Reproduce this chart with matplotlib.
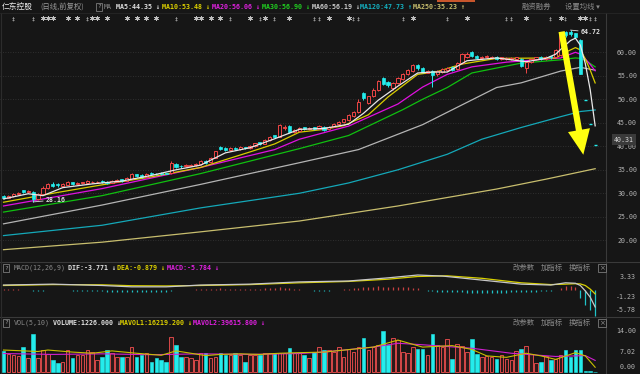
import matplotlib
matplotlib.use('Agg')
import matplotlib.pyplot as plt
import numpy as np
from matplotlib.transforms import blended_transform_factory
from matplotlib.lines import Line2D
from matplotlib.patches import Rectangle

# ---------------- data ----------------
opens = [29.4,29.0,29.4,29.8,30.6,30.2,30.3,28.8,29.9,31.2,
         32.0,31.9,31.6,31.8,32.3,31.9,32.1,32.2,32.4,32.3,
         32.6,32.5,32.2,32.5,33.0,32.7,33.1,34.0,33.8,33.5,
         34.3,34.2,34.3,34.3,34.3,36.3,35.9,35.7,35.9,36.0,
         36.2,36.9,36.6,37.6,39.9,39.6,39.2,39.7,39.4,39.8,
         39.6,40.0,40.9,40.5,41.3,42.3,42.0,43.8,44.4,43.0,
         43.3,44.0,43.6,44.0,43.7,44.2,43.6,44.1,44.7,45.1,
         45.5,46.4,47.2,51.3,49.3,50.6,51.9,54.6,53.6,52.4,
         53.4,54.4,55.3,56.0,57.3,56.6,55.7,56.0,55.3,55.9,
         56.3,56.8,56.4,57.8,59.0,60.0,59.2,58.8,58.9,58.7,
         59.0,58.5,58.6,58.5,58.6,58.6,56.7,57.9,58.5,59.0,
         58.6,59.2,58.9,59.5,64.3,64.4,64.0,62.6,49.8,44.82,40.31]
closes = [29.0,29.4,29.8,30.1,30.3,30.4,28.8,29.8,31.2,31.9,
          31.6,31.7,31.9,32.3,31.9,32.2,32.3,32.6,32.5,32.5,
          32.3,32.2,32.6,32.8,32.7,33.2,34.0,33.6,33.5,34.2,
          34.0,34.0,34.1,34.2,36.5,35.6,35.7,36.0,36.1,36.3,
          36.8,36.5,37.6,38.9,39.5,39.2,39.6,39.4,39.8,39.6,
          40.1,40.6,40.5,41.3,42.0,42.0,44.5,44.2,43.0,43.4,
          43.8,43.6,43.9,43.7,44.3,43.5,44.2,44.8,45.2,45.7,
          46.6,47.3,49.5,50.2,50.6,52.0,53.8,53.3,53.0,53.4,
          54.5,55.4,56.2,57.2,56.6,55.9,56.1,55.2,56.0,56.4,
          56.6,56.3,57.8,59.6,59.7,59.2,58.8,59.1,59.2,59.0,
          58.6,58.9,58.8,58.8,58.9,57.1,57.9,58.6,58.9,58.6,
          59.0,58.9,60.4,64.0,63.6,63.9,63.3,55.33,49.8,44.82,40.31]
highs = [29.6,29.6,30.0,30.3,30.8,30.6,30.4,30.0,31.5,32.2,
         32.3,32.1,32.1,32.6,32.4,32.4,32.5,32.8,32.7,32.7,
         32.8,32.7,32.8,33.0,33.1,33.4,34.3,34.1,34.0,34.4,
         34.5,34.3,34.5,34.4,36.8,36.5,36.1,36.2,36.3,36.5,
         37.0,37.1,37.8,39.1,40.1,39.8,39.8,39.9,40.0,39.9,
         40.3,40.8,41.0,41.5,42.2,42.5,44.7,44.5,44.6,43.6,
         44.0,44.2,44.1,44.2,44.5,44.3,44.4,45.0,45.4,45.9,
         46.8,47.6,50.0,51.6,50.8,52.5,54.2,54.8,53.9,53.6,
         54.8,55.6,56.5,57.6,57.5,56.8,56.3,56.2,56.2,56.6,
         56.9,57.0,58.0,59.8,60.0,60.3,59.4,59.3,59.4,59.2,
         59.2,59.1,59.0,59.0,59.1,58.8,58.1,58.8,59.1,59.2,
         59.2,59.3,60.6,64.2,64.5,64.72,64.2,62.9,49.8,44.82,40.31]
lows = [28.8,28.9,29.2,29.6,30.0,30.0,28.16,28.6,29.8,31.0,
        31.4,31.4,31.5,31.7,31.7,31.8,31.9,32.0,32.2,32.2,
        32.1,32.0,32.1,32.4,32.5,32.6,33.0,33.4,33.2,33.4,
        33.8,33.8,33.9,34.0,34.2,35.4,35.4,35.6,35.8,35.9,
        36.1,36.3,36.5,37.5,39.2,38.9,39.0,39.2,39.3,39.4,
        39.5,39.9,40.3,40.4,41.1,41.8,41.9,43.4,42.8,42.8,
        43.2,43.4,43.4,43.5,43.6,43.2,43.5,44.0,44.5,45.0,
        45.4,46.2,47.0,49.9,49.0,50.4,51.7,53.0,52.6,51.9,
        53.2,54.2,55.1,55.9,56.3,55.6,55.5,52.6,55.0,55.7,
        56.1,56.1,56.3,57.6,58.8,59.0,58.6,58.6,58.7,58.5,
        58.4,58.4,58.4,58.3,58.4,56.9,55.6,57.7,58.3,58.4,
        58.4,58.6,58.8,59.3,63.2,63.5,63.0,55.33,49.8,44.82,40.31]
volumes = [7.3,6.3,5.8,5.5,8.7,4.7,13.0,4.7,7.5,6.0,
           4.1,3.0,3.5,7.5,4.7,5.8,5.8,7.5,6.9,4.1,
           5.2,7.5,6.4,5.2,5.2,5.2,8.6,5.2,5.8,6.4,
           3.5,4.7,4.1,3.5,11.8,9.2,5.2,5.2,4.7,4.1,
           6.4,6.4,4.7,5.2,6.4,5.8,5.8,6.4,5.8,3.5,
           5.8,5.8,5.8,6.4,6.4,6.4,6.4,6.4,8.1,6.4,
           6.4,5.8,4.7,6.9,8.6,7.5,7.5,6.9,8.4,5.2,
           7.7,6.9,8.4,11.5,7.5,8.4,9.2,14.1,9.2,11.5,
           10.9,6.9,6.5,8.4,7.9,7.9,5.8,12.9,9.2,8.4,
           11.2,4.3,9.6,8.8,6.9,11.2,6.1,5.2,5.4,5.2,
           4.3,5.8,4.3,4.1,7.3,7.7,9.0,6.1,3.0,3.5,
           5.4,4.1,4.6,5.8,7.5,5.2,7.5,7.5,0.4,0.3,0.12]
macd_bar = [0.15,0.2,0.25,0.2,0.1, -0.1,-0.2,-0.25,-0.15,-0.05,
            0.1,0.05,-0.05,-0.1,-0.15, -0.2,-0.2,-0.25,-0.25,-0.3,
            -0.3,-0.35,-0.35,-0.4,-0.4, -0.45,-0.4,-0.45,-0.5,-0.5,
            -0.55,-0.5,-0.45,-0.4,-0.2, -0.1,-0.05,0.05,0.1,0.15,
            0.2,0.2,0.25,0.3,0.35, 0.3,0.3,0.25,0.25,0.2,
            0.2,0.25,0.3,0.35,0.4, 0.45,0.6,0.55,0.4,0.3,
            0.2,0.1,-0.05,-0.15,-0.2, -0.25,-0.2,-0.1,0.05,0.15,
            0.25,0.35,0.5,0.6,0.6, 0.7,0.8,0.75,0.7,0.65,
            0.7,0.65,0.6,0.5,0.4, -0.1,-0.2,-0.3,-0.35,-0.4,
            -0.45,-0.5,-0.5,-0.55,-0.6, -0.65,-0.7,-0.75,-0.75,-0.7,
            -0.7,-0.65,-0.6,-0.55,-0.5, -0.55,-0.5,-0.45,-0.4,-0.3,
            -0.2,-0.15,-0.05, 0.5,0.8,0.9,0.6, -1.8,-3.3,-4.4,-5.78]

# moving-average lines (candle index, value)
ma5_i = [0,5,8,12,18,24,30,35,40,45,50,55,60,65,70,73,76,80,84,87,90,94,100,106,110,112,113,115,116,117,118,119,120]
ma5_v = [28.8,29.9,29.5,31.2,32.0,32.6,33.8,35.0,36.0,38.6,39.7,41.6,43.6,43.8,44.7,47.0,49.8,52.8,55.6,55.8,55.8,58.2,58.8,58.0,58.7,59.6,60.6,62.5,63.0,61.5,57.6,52.0,44.35]
ma10_i = [0,10,20,30,40,50,55,60,65,69,74,78,84,88,93,100,112,114,116,117,118,119,120]
ma10_v = [28.1,30.0,31.8,33.5,35.5,38.8,40.5,43.0,43.6,44.4,46.7,50.5,55.3,55.9,57.5,58.7,58.8,60.0,61.0,60.5,58.6,56.2,53.48]
ma20_i = [0,20,40,55,60,70,80,85,90,95,102,113,116,117,118,119,120]
ma20_v = [27.3,31.0,35.5,39.3,41.5,44.3,49.0,52.6,55.3,56.9,57.9,58.8,60.0,59.6,58.6,57.4,56.06]
ma30_i = [0,20,40,60,70,81,85,90,95,105,113,116,117,118,119,120]
ma30_v = [26.0,29.5,34.2,39.5,42.3,47.8,50.0,52.5,55.6,57.7,58.4,58.8,58.7,58.3,57.6,56.90]
ma60_i = [0,20,40,60,72,85,100,105,113,117,120]
ma60_v = [23.5,27.5,31.9,36.5,39.3,44.6,52.5,53.5,56.0,56.8,56.19]
ma120_i = [0,20,40,60,70,80,90,97,105,113,117,120]
ma120_v = [21.0,23.2,26.9,30.0,32.2,35.0,38.3,41.5,44.0,46.3,47.4,47.73]
ma250_i = [0,20,40,60,80,100,110,120]
ma250_v = [18.0,19.6,21.8,24.1,27.3,30.9,33.0,35.23]

# MACD lines
dif_i = [0,10,20,26,33,40,50,60,70,78,84,89,97,105,111,114,116,117,118,119,120]
dif_v = [1.1,1.3,1.0,0.7,0.7,1.1,1.3,1.8,2.0,2.7,3.33,3.1,2.2,1.3,1.1,1.6,1.5,1.0,-0.2,-1.6,-3.771]
dea_i = [0,10,20,26,33,40,50,60,70,78,84,90,97,105,111,114,116,117,118,119,120]
dea_v = [1.0,1.2,1.15,0.95,0.9,1.0,1.2,1.6,1.9,2.4,3.0,3.15,2.6,1.6,1.2,1.3,1.4,1.35,1.0,0.2,-0.879]

# volume average lines
mavol1_i = [0,7,9,14,18,22,27,32,35,38,41,44,48,52,56,60,65,71,75,80,85,91,95,98,102,106,109,112,116,118,120]
mavol1_v = [7.5,7.0,7.5,6.8,6.4,7.2,6.4,5.7,7.2,6.4,5.6,6.0,6.2,6.0,6.4,6.6,6.8,7.8,8.5,10.9,8.5,9.0,7.7,5.5,5.0,6.4,5.5,4.3,6.6,5.5,1.62]
mavol2_i = [0,10,20,30,40,50,60,65,75,80,85,95,103,112,118,120]
mavol2_v = [6.3,6.0,6.2,5.9,6.2,6.0,6.3,6.8,8.5,9.8,9.3,8.1,6.4,5.3,5.6,3.96]

price_ticks = [20, 25, 30, 35, 40, 45, 50, 55, 60]
last_price = 40.31
high_mark = (115, 64.72)
low_mark = (6, 28.16)

# info marks row: candle indices (wide star / narrow double dagger)
info_wide = [8,9,10,13,15,18,19,21,25,27,29,31,39,40,42,44,50,53,58,66,70,83,94,106,113,117,118]
info_narrow = [2,6,17,35,46,52,55,63,64,71,72,81,90,102,103,111,114,119,120]

# ---------------- style ----------------
W, H = 640, 374
BG = '#161616'
RED = '#ee4646'
CYAN = '#24ecec'
CJK = ['Noto Sans CJK SC', 'DejaVu Sans']
MONO = ['DejaVu Sans Mono', 'DejaVu Sans']

fig = plt.figure(figsize=(6.4, 3.74), dpi=100, facecolor=BG)

def fx(x):
    return x / W

def fy(y):
    return 1 - y / H

XL = (-0.71, 122.2)
ax = fig.add_axes([0, fy(262), fx(606), (262 - 13) / H])
axm = fig.add_axes([0, fy(317), fx(606), (317 - 262) / H])
axv = fig.add_axes([0, fy(373), fx(606), (373 - 317) / H])
for a in (ax, axm, axv):
    a.set_facecolor(BG)
    for s in a.spines.values():
        s.set_visible(False)
    a.set_xlim(*XL)
    a.set_xticks([])
    a.tick_params(left=False, right=False, labelleft=False, bottom=False, labelbottom=False)

o = np.array(opens); c = np.array(closes); h = np.array(highs); l = np.array(lows)
idx = np.arange(len(c))
prev = np.r_[o[0], c[:-1]]
up = (c > o) | ((c == o) & (c >= prev))
dn = ~up
flat = np.isclose(c, o)

# ---- main panel ----
ax.set_ylim(15.38, 68.36)
ax.hlines(price_ticks, XL[0], XL[1], colors='#383838', linestyles=(0, (1, 2)), lw=0.6, zorder=0)

top = np.maximum(o, c); bot = np.minimum(o, c)
ax.vlines(idx[up], top[up], h[up], colors=RED, lw=0.7, zorder=3)
ax.vlines(idx[up], l[up], bot[up], colors=RED, lw=0.7, zorder=3)
ax.vlines(idx[dn], l[dn], h[dn], colors=CYAN, lw=0.7, zorder=3)
bw = 0.64
m = up & ~flat
ax.bar(idx[m], (top - bot)[m], bottom=bot[m], width=bw, facecolor=BG, edgecolor=RED, lw=0.7, zorder=4)
m = dn & ~flat
ax.bar(idx[m], (top - bot)[m], bottom=bot[m], width=bw, facecolor=CYAN, edgecolor=CYAN, lw=0.5, zorder=4)
ax.hlines(c[flat], idx[flat] - bw / 2, idx[flat] + bw / 2, colors=CYAN, lw=1.0, zorder=4)

ax.plot(ma250_i, ma250_v, color='#c8be6e', lw=0.9, zorder=2)
ax.plot(ma120_i, ma120_v, color='#14a8b8', lw=0.9, zorder=2)
ax.plot(ma60_i, ma60_v, color='#b4b4b4', lw=0.9, zorder=2)
ax.plot(ma30_i, ma30_v, color='#10c010', lw=0.9, zorder=2)
ax.plot(ma20_i, ma20_v, color='#e010e0', lw=0.9, zorder=2)
ax.plot(ma10_i, ma10_v, color='#d8cc00', lw=0.9, zorder=2)
ax.plot(ma5_i, ma5_v, color='#e8e8e8', lw=0.9, zorder=5)

ax.yaxis.tick_right()
ax.set_yticks(price_ticks)
ax.set_yticklabels([f'{v:.2f}' for v in price_ticks])
ax.tick_params(axis='y', right=False, labelright=True, length=0, pad=8, labelsize=4.8, labelcolor='#b4b4b4')
for lb in ax.get_yticklabels():
    lb.set_family(MONO)

ax.annotate(f'{last_price:.2f}', xy=(1, last_price), xycoords=('axes fraction', 'data'),
            xytext=(18, 5), textcoords='offset pixels', ha='center', va='center',
            fontsize=4.8, family=MONO, color='#d8d8d8', annotation_clip=False, zorder=20,
            bbox=dict(boxstyle='square,pad=0.35', fc='#3a3a3a', ec='none'))

ax.annotate(f'{high_mark[1]:.2f}', xy=high_mark, xytext=(117.1, 64.3), ha='left', va='center',
            fontsize=4.8, family=MONO, color='#e0e0e0', fontweight='bold',
            arrowprops=dict(arrowstyle='-', color='#e0e0e0', lw=0.6, shrinkA=0, shrinkB=0), zorder=12)
ax.annotate(f'{low_mark[1]:.2f}', xy=low_mark, xytext=(8.6, 28.6), ha='left', va='center',
            fontsize=4.8, family=MONO, color='#e0e0e0', fontweight='bold',
            arrowprops=dict(arrowstyle='-', color='#e0e0e0', lw=0.6, shrinkA=0, shrinkB=0), zorder=12)

ax.annotate('', xy=(117.6, 38.2), xytext=(113.2, 64.4),
            arrowprops=dict(arrowstyle='simple,head_length=1.8,head_width=1.6,tail_width=0.45',
                            fc='#ffff10', ec='none', mutation_scale=10, shrinkA=0, shrinkB=0), zorder=15)

tr = blended_transform_factory(ax.transData, ax.transAxes)
ax.scatter(info_wide, [0.978] * len(info_wide), marker=(6, 2, 0), s=10, lw=0.5, color='#c0c0c0', transform=tr, zorder=6)
for i in info_narrow:
    ax.text(i, 0.975, '\u2021', transform=tr, ha='center', va='center', fontsize=4.2, color='#c0c0c0', family='DejaVu Sans')

# ---- MACD panel ----
axm.set_ylim(-6.0, 6.22)
mb = np.array(macd_bar)
axm.vlines(idx[mb >= 0], 0, mb[mb >= 0], colors='#c84040', lw=0.9)
axm.vlines(idx[mb < 0], 0, mb[mb < 0], colors='#20c4c8', lw=0.9)
axm.plot(dea_i, dea_v, color='#d8d000', lw=0.9)
axm.plot(dif_i, dif_v, color='#c8c8c8', lw=0.9)

# ---- volume panel ----
axv.set_ylim(-0.34, 18.77)
v = np.array(volumes)
axv.bar(idx[up], v[up], width=0.72, facecolor='#2e1a1a', edgecolor='#d84848', lw=0.7)
axv.bar(idx[dn], v[dn], width=0.72, facecolor=CYAN, edgecolor=CYAN, lw=0.4)
axv.plot(mavol2_i, mavol2_v, color='#d020d0', lw=0.8)
axv.plot(mavol1_i, mavol1_v, color='#c8c000', lw=0.8)

# ---- frame lines ----
for yy in (262, 317):
    fig.add_artist(Line2D([0, 1], [fy(yy), fy(yy)], color='#3a3a3a', lw=0.8))
fig.add_artist(Line2D([fx(606), fx(606)], [0, fy(13)], color='#3a3a3a', lw=0.8))
fig.add_artist(Line2D([fx(1), fx(1)], [0, fy(13)], color='#2c2c2c', lw=0.8))
fig.add_artist(Line2D([0, 1], [fy(13), fy(13)], color='#262626', lw=0.6))
fig.add_artist(Rectangle((fx(437), fy(2)), 38 / W, 2 / H, color='#c8562c', lw=0))

def t(x, y, s, color, size=4.8, fam=MONO, ha='left', **kw):
    fig.text(fx(x), fy(y), s, color=color, fontsize=size, family=fam, ha=ha, va='center', **kw)

qbox = dict(boxstyle='square,pad=0.2', fc='none', ec='#7a7a7a', lw=0.6)
B = dict(fontweight='bold')

# title bar
t(2, 7, '仁东控股', '#ececec', size=5.6, fam=CJK)
t(40, 7, '(日线,前复权)', '#9a9a9a', size=5.3, fam=CJK)
t(97, 7, '?', '#a0a0a0', size=4.6, bbox=qbox)
t(104, 7, 'MA', '#8a8a8a')
t(116, 7, 'MA5:44.35 \u2193', '#e0e0e0', **B)
t(162, 7, 'MA10:53.48 \u2193', '#dcd000', **B)
t(212, 7, 'MA20:56.06 \u2193', '#e020e0', **B)
t(262, 7, 'MA30:56.90 \u2193', '#20d020', **B)
t(312, 7, 'MA60:56.19 \u2193', '#cccccc', **B)
t(360, 7, 'MA120:47.73 \u2191', '#14b0c0', **B)
t(413, 7, 'MA250:35.23 \u2191', '#c8be6e', **B)
t(522, 7, '融资融券', '#8a8a8a', size=5.3, fam=CJK)
t(565, 7, '设置均线 \u25be', '#8a8a8a', size=5.3, fam=CJK)

# MACD header
t(4, 268, '?', '#a0a0a0', size=4.6, bbox=qbox)
t(14, 268, 'MACD(12,26,9)', '#8a8a8a')
t(68, 268, 'DIF:-3.771 \u2193', '#e0e0e0', **B)
t(117, 268, 'DEA:-0.879 \u2193', '#dcd000', **B)
t(167, 268, 'MACD:-5.784 \u2193', '#e020e0', **B)

# VOL header
t(4, 323, '?', '#a0a0a0', size=4.6, bbox=qbox)
t(14, 323, 'VOL(5,10)', '#8a8a8a')
t(53, 323, 'VOLUME:1226.000 \u2193', '#e0e0e0', **B)
t(120, 323, 'MAVOL1:16219.200 \u2193', '#dcd000', **B)
t(193, 323, 'MAVOL2:39615.800 \u2193', '#e020e0', **B)

for yy in (268, 323):
    t(513, yy, '改参数', '#8a8a8a', size=5.3, fam=CJK)
    t(541, yy, '加指标', '#8a8a8a', size=5.3, fam=CJK)
    t(569, yy, '换指标', '#8a8a8a', size=5.3, fam=CJK)
    t(599, yy, '\u00d7', '#8a8a8a', size=5.0, fam='DejaVu Sans', bbox=qbox)

# right-hand labels of the lower panels
for yy, s in ((277, '3.33'), (297, '-1.23'), (310, '-5.78'), (331, '14.00'), (352, '7.02'), (367, '0.00')):
    t(636, yy, s, '#b4b4b4', ha='right')

fig.savefig('out.png', dpi=100, facecolor=BG)
